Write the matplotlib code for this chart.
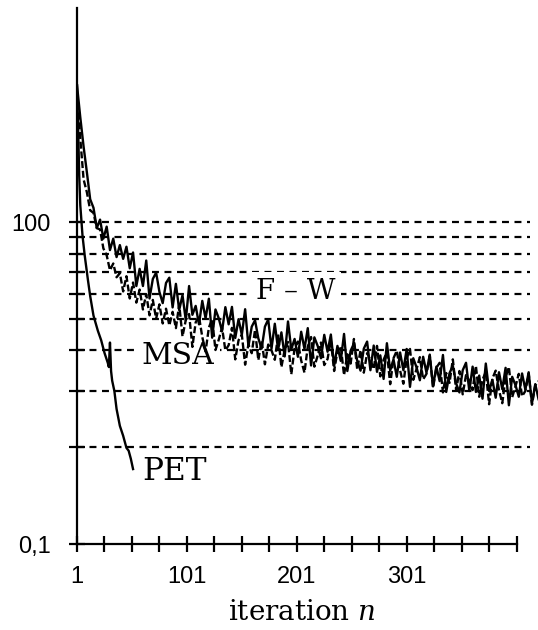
import matplotlib
matplotlib.use("Agg")
import matplotlib.pyplot as plt
import numpy as np

plt.rcParams['lines.scale_dashes'] = False
plt.rcParams['mathtext.fontset'] = 'dejavuserif'

# iteration numbers (every 3rd iteration for the two noisy series)
n_fw = np.arange(1, 422, 3)
n_msa = np.arange(1, 422, 3)

fw = [267, 212, 172, 143, 118, 111, 96, 102, 89, 97, 82, 89, 78, 85, 77, 84, 72, 80.6, 63.4, 71.7,
      63.4, 76.1, 58, 66.7, 69.8, 60.8, 56.1, 64.8, 67.3, 54.4,
      64.4, 53.4, 59.4, 49.6, 63.4, 51.6, 55, 48.2, 57, 50.3, 57.9, 43.8, 53.6, 50.3, 45.9, 54.5, 48.2,
      54.6, 43.7, 50, 44.7, 53.7, 41.2, 47.4, 49.6, 43.6, 40.5, 47.4, 49.9, 40.5,
      48.4, 40.2, 45.5, 38.3, 49.2, 40.3, 43.4, 38.2, 45.7, 40.4, 46.9, 35.9, 43.9, 41.3, 37.8, 44.7,
      39.6, 44.8, 35.8, 41.3, 37.1, 45, 34.5, 39.9, 42, 37.1, 34.6, 40.5, 42.6, 34.7,
      41.4, 34.3, 38.6, 32.6, 42.1, 34.6, 37.5, 33.1, 39.4, 34.7, 40.4, 30.8, 37.8, 35.4, 32.3, 38.2,
      34.1, 38.8, 30.9, 35.6, 32.1, 38.7, 29.7, 34, 35.8, 31.6, 29.6, 34.7, 36.6, 29.9,
      35.6, 29.7, 33.4, 28.3, 36.4, 29.9, 32.4, 28.5, 34.2, 30.3, 35.3, 27, 33.1, 31.2, 28.7, 33.9,
      30.2, 34.2, 27.4, 31.4, 28.2]

msa = [252, 182, 136, 124, 109, 107, 96, 95, 83, 79, 71, 74.5, 67.5, 69.5, 61, 68, 58, 65,
       56.3, 61.8, 53.6, 59.8, 51.4, 57.4, 50.2, 55.6, 48.5, 53.9, 47.8, 52.7,
       46.9, 55.5, 44.2, 49.7, 51.9, 41, 48.9, 51, 44, 39.7, 47.1, 50, 40.1, 43.2, 47.1, 40, 41.5,
       47, 37.5, 43, 44.7, 36.1, 41.8, 39.2, 46.3, 37.3, 42.8, 36.2, 41.7, 40,
       37.4, 44.5, 35.5, 40.2, 42.5, 33.7, 40.6, 42.6, 37.2, 34.1, 41.1, 44, 35.6, 38.5, 42.3, 36,
       37.6, 42.9, 34.5, 39.8, 41.2, 33.5, 38.9, 36.4, 43.4, 34.9, 40, 34.1, 39.2, 37.3,
       35, 41.3, 33.2, 37.4, 39.5, 31.4, 37.8, 39.9, 34.6, 31.5, 37.8, 40.4, 32.4, 35, 38.1, 32.5,
       33.8, 38.5, 30.6, 35.3, 36.6, 29.6, 34, 31.7, 37.5, 30.1, 34.5, 29.2, 33.5, 32.2,
       30.1, 35.8, 28.7, 32.4, 34.3, 27.2, 32.7, 34.6, 30.1, 27.4, 33, 35.5, 28.6, 30.9, 33.8, 28.8,
       29.9, 33.9, 27.1, 31.1, 32.1]

n_pet = [1, 2, 3, 4, 6, 8, 11, 13, 16, 20, 23, 26, 29, 30, 31, 32, 33, 35, 37, 40, 43, 46, 48, 50, 52]
pet = [267, 198, 140, 113, 91, 79, 66, 59, 51.3, 46, 43, 39.3, 36.6, 35.5, 42.3, 34.5, 32.2, 29.9,
       26.3, 23.3, 21.7, 19.9, 19.5, 18.4, 17.1]

grid_levels = [20, 30, 40, 50, 60, 70, 80, 90, 100]
x_ticks = np.arange(1, 402, 25)
x_labelled = [1, 101, 201, 301]

fig = plt.figure(figsize=(5.38, 6.30), dpi=100)
ax = fig.add_axes([77 / 538, 86 / 630, 1 - 77 / 538, 536 / 630])

ax.set_yscale('log')
ax.set_xlim(1, 420.5)
ax.set_ylim(10, 464)

ax.hlines(grid_levels, 1, 413, colors='black', linewidth=1.6, linestyles=(0, (5, 4)), zorder=1)

ax.plot(n_fw, fw, color='black', linewidth=1.7, zorder=3)
ax.plot(n_msa, msa, color='black', linewidth=1.7, linestyle=(0, (5, 2)), zorder=3)
ax.plot(n_pet, pet, color='black', linewidth=1.7, zorder=3)

box = dict(facecolor='white', edgecolor='none', pad=4)
ax.text(200, 61, 'F – W', family='DejaVu Serif', fontsize=20, ha='center', va='center', bbox=box, zorder=2)
ax.text(93, 38.5, 'MSA', family='DejaVu Serif', fontsize=21.5, ha='center', va='center', bbox=box, zorder=2)
ax.text(90, 16.8, 'PET', family='DejaVu Serif', fontsize=22.5, ha='center', va='center', zorder=2)

for s in ['top', 'right']:
    ax.spines[s].set_visible(False)
ax.spines['left'].set_linewidth(1.6)
ax.spines['bottom'].set_linewidth(1.6)
ax.spines['bottom'].set_bounds(1, 401)

ax.set_xticks(x_ticks)
ax.set_xticklabels([str(v) if v in x_labelled else '' for v in x_ticks])
ax.set_yticks([10, 100])
ax.set_yticklabels(['0,1', '100'])
ax.set_yticks(grid_levels[:-1], minor=True)
ax.yaxis.set_minor_formatter(plt.NullFormatter())
ax.xaxis.set_minor_locator(plt.NullLocator())

ax.tick_params(axis='both', which='both', direction='inout', length=12, width=1.6, labelsize=17)
for lab in ax.get_xticklabels() + ax.get_yticklabels():
    lab.set_family('Liberation Sans')
ax.tick_params(axis='y', pad=13)
ax.tick_params(axis='x', pad=10)

fig.text(302 / 538, 1 - 613 / 630, 'iteration $n$', family='DejaVu Serif', fontsize=20,
         ha='center', va='center')

fig.savefig('out.png', dpi=100)
